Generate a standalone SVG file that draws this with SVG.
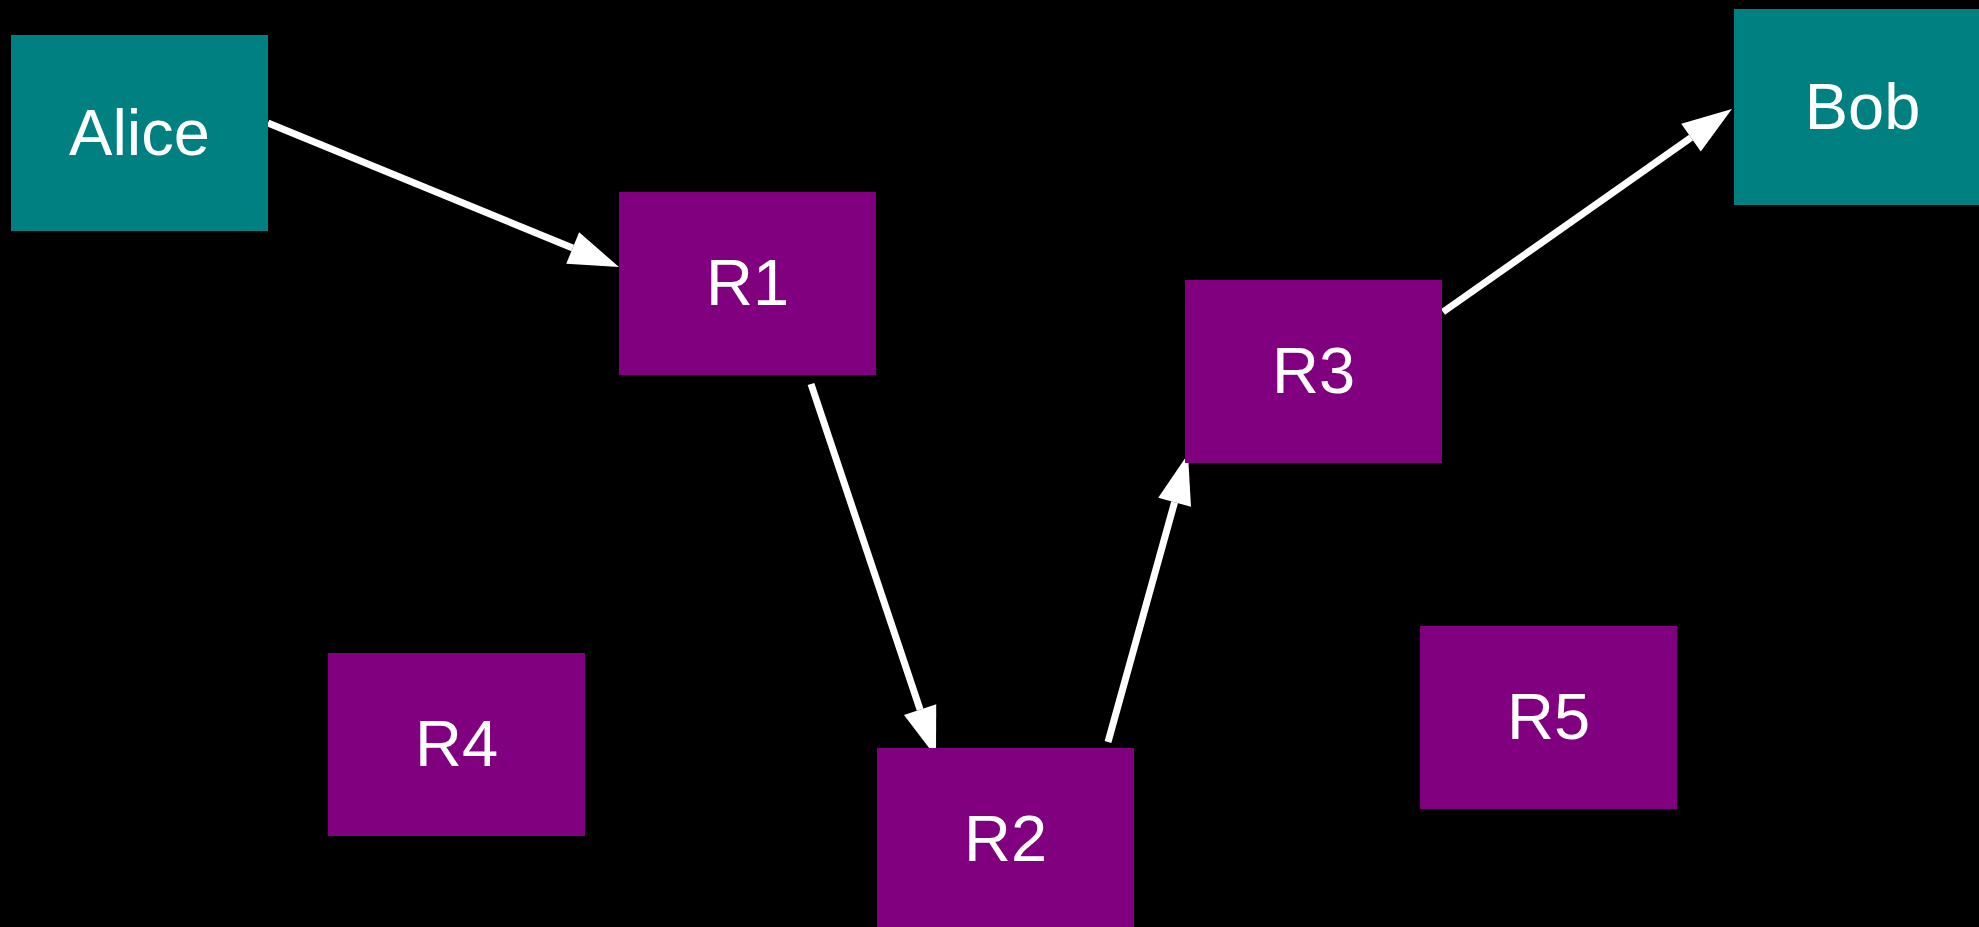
<svg xmlns="http://www.w3.org/2000/svg" width="1979" height="927" viewBox="0 0 1979 927">
<style>
.host{fill:#008080}
.router{fill:#800080}
.lbl{fill:#ffffff;font-family:"Liberation Sans",Arial,sans-serif;font-size:65px;text-anchor:middle}
.edge{stroke:#ffffff;stroke-width:7;fill:none;marker-end:url(#arrow)}
</style>
<defs>
<marker id="arrow" markerUnits="userSpaceOnUse" markerWidth="52" markerHeight="36" refX="0" refY="17" orient="auto" overflow="visible">
<path d="M0,0 L50,17 L0,34 Z" fill="#ffffff"/>
</marker>
</defs>
<rect x="0" y="0" width="1979" height="927" fill="#000000"/>
<g id="connectors">
<line class="edge" x1="268" y1="123" x2="572.7" y2="248"/>
<line class="edge" x1="811" y1="384" x2="920.1" y2="709.6"/>
<line class="edge" x1="1108" y1="742" x2="1174.6" y2="502.2"/>
<line class="edge" x1="1443" y1="312" x2="1691" y2="137.7"/>
</g>
<g id="Alice"><rect class="host" x="11" y="35" width="257" height="196"/><text class="lbl" x="139.5" y="155">Alice</text></g>
<g id="Bob"><rect class="host" x="1734" y="9" width="257" height="196"/><text class="lbl" x="1862.5" y="129">Bob</text></g>
<g id="R1"><rect class="router" x="619" y="192" width="257" height="183"/><text class="lbl" x="747.5" y="304.5">R1</text></g>
<g id="R2"><rect class="router" x="877" y="748" width="257" height="183"/><text class="lbl" x="1005.5" y="861">R2</text></g>
<g id="R3"><rect class="router" x="1185" y="280" width="257" height="183"/><text class="lbl" x="1313.5" y="393">R3</text></g>
<g id="R4"><rect class="router" x="328" y="653" width="257" height="183"/><text class="lbl" x="456.5" y="766">R4</text></g>
<g id="R5"><rect class="router" x="1420" y="626" width="257" height="183"/><text class="lbl" x="1548.5" y="739">R5</text></g>
</svg>
